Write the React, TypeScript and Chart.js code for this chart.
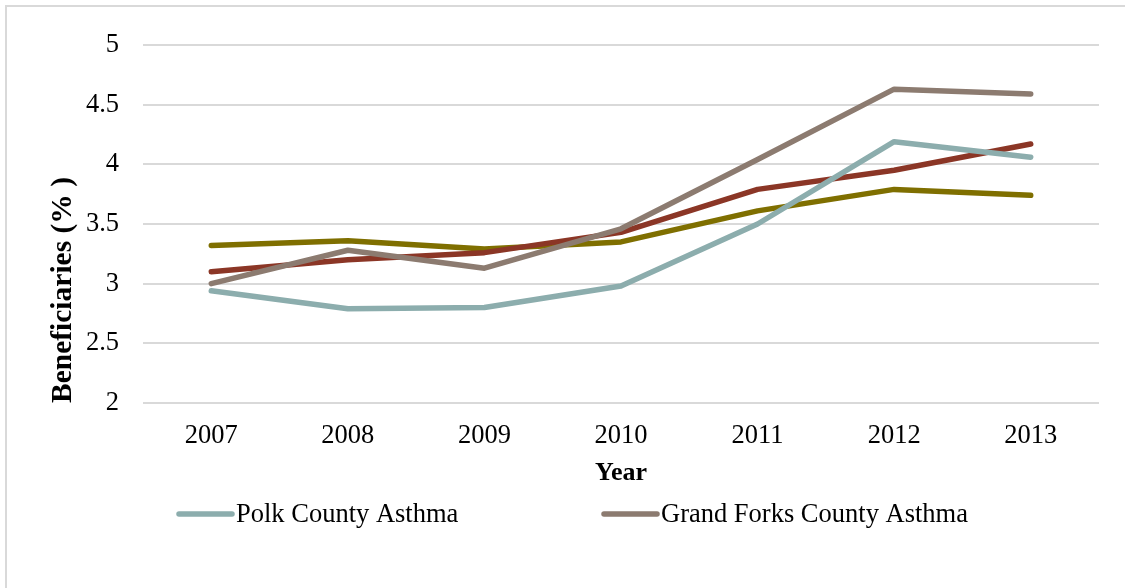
import React, { useEffect, useRef } from "react";
import { Chart, registerables } from "chart.js";

Chart.register(...registerables);

const years = ["2007", "2008", "2009", "2010", "2011", "2012", "2013"];
const polkAsthma = [2.94, 2.79, 2.8, 2.98, 3.5, 4.19, 4.06];
const grandForksAsthma = [3.0, 3.28, 3.13, 3.46, 4.04, 4.63, 4.59];
const seriesRed = [3.1, 3.2, 3.26, 3.43, 3.79, 3.95, 4.17];
const seriesOlive = [3.32, 3.36, 3.29, 3.35, 3.61, 3.79, 3.74];
const yTitle = "Beneficiaries (% )";
const xTitle = "Year";
const legendLabels = ["Polk County Asthma", "Grand Forks County Asthma"];

const FONT = "'Liberation Serif', 'Times New Roman', serif";

const extras = {
  id: "extras",
  afterDraw(chart: any) {
    const ctx = chart.ctx;
    ctx.save();
    // frame (top and left)
    ctx.strokeStyle = "#d9d9d9";
    ctx.lineWidth = 2;
    ctx.beginPath();
    ctx.moveTo(6, 588);
    ctx.lineTo(6, 6);
    ctx.lineTo(1125, 6);
    ctx.stroke();
    // y title
    ctx.fillStyle = "#000";
    ctx.font = `bold 29.5px ${FONT}`;
    ctx.textAlign = "center";
    ctx.textBaseline = "middle";
    ctx.translate(63, 290);
    ctx.rotate(-Math.PI / 2);
    ctx.fillText(yTitle, 0, 0);
    ctx.restore();
    // legend
    ctx.save();
    const items = [
      { x: 179, ds: 0 },
      { x: 604, ds: 1 },
    ];
    items.forEach((it, i) => {
      const ds = chart.data.datasets[it.ds];
      ctx.strokeStyle = ds.borderColor;
      ctx.lineWidth = 5.5;
      ctx.lineCap = "round";
      ctx.beginPath();
      ctx.moveTo(it.x, 514);
      ctx.lineTo(it.x + 53, 514);
      ctx.stroke();
      ctx.fillStyle = "#000";
      ctx.font = `26.5px ${FONT}`;
      ctx.textAlign = "left";
      ctx.textBaseline = "middle";
      ctx.fillText(legendLabels[i], it.x + 57, 515);
    });
    ctx.restore();
  },
};

export default function App() {
  const ref = useRef<HTMLCanvasElement>(null);
  useEffect(() => {
    document.body.style.margin = "0";
    const mk = (label: string, data: number[], color: string) => ({
      label,
      data,
      borderColor: color,
      backgroundColor: color,
      borderWidth: 5.5,
      pointRadius: 0,
      borderCapStyle: "round" as const,
      borderJoinStyle: "round" as const,
      tension: 0,
    });
    const chart = new Chart(ref.current!, {
      type: "line",
      data: {
        labels: years,
        datasets: [
          mk(legendLabels[0], polkAsthma, "#8cadad"),
          mk(legendLabels[1], grandForksAsthma, "#8c7b70"),
          mk("Series 3", seriesRed, "#8b3626"),
          mk("Series 4", seriesOlive, "#7f6f00"),
        ],
      },
      options: {
        animation: false,
        responsive: false,
        layout: { padding: { left: 0, top: 45, right: 26, bottom: 99 } },
        plugins: { legend: { display: false }, tooltip: { enabled: false } },
        scales: {
          x: {
            offset: true,
            grid: { display: false, drawTicks: false },
            border: { display: false },
            ticks: { color: "#000", font: { family: FONT, size: 26.5 }, padding: 17, maxRotation: 0 },
            title: { display: true, text: xTitle, color: "#000", font: { family: FONT, size: 26, weight: "bold" }, padding: { top: 0, bottom: 0 } },
            afterFit: (s: any) => { s.height = 86; },
          },
          y: {
            min: 2,
            max: 5,
            ticks: {
              stepSize: 0.5,
              color: "#000",
              font: { family: FONT, size: 26.5 },
              padding: 24,
              callback: (v: any) => String(Number(v)),
            },
            grid: { color: "#d9d9d9", lineWidth: 2, drawTicks: false },
            border: { display: false },
            afterFit: (s: any) => { s.width = 143; },
          },
        },
      },
      plugins: [extras],
    });
    return () => chart.destroy();
  }, []);
  return <canvas ref={ref} width={1125} height={588} style={{ display: "block" }} />;
}
